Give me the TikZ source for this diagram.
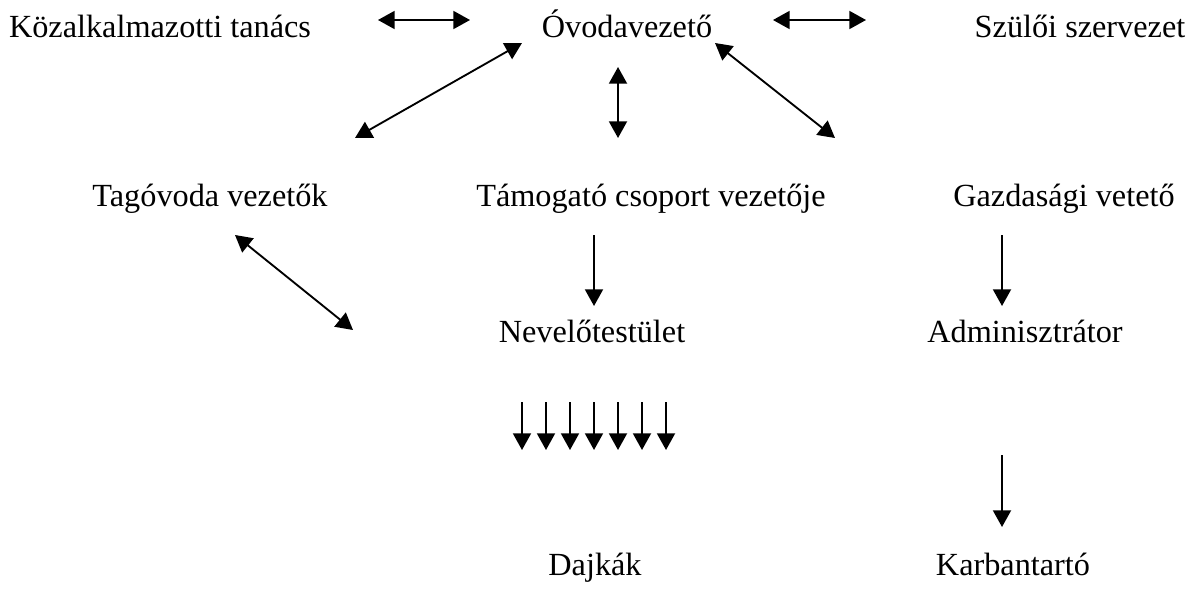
\documentclass[tikz,border=0pt]{standalone}
\usepackage{fontspec}
\setmainfont{Liberation Serif}
\usetikzlibrary{arrows.meta}
\begin{document}
\begin{tikzpicture}[x=0.75pt,y=-0.75pt,
  lbl/.style={anchor=base,inner sep=0pt,font=\fontsize{24.2pt}{28pt}\selectfont},
  tip/.style={Triangle[width=13.5pt,length=12.5pt]},
  arr/.style={line width=1.4pt,-{Triangle[width=13.5pt,length=12.5pt]}},
  darr/.style={line width=1.4pt,{Triangle[width=13.5pt,length=12.5pt]}-{Triangle[width=13.5pt,length=12.5pt]}}]
\useasboundingbox (0,0) rectangle (1196,596);
% texts
\node[lbl] (kozal) at (160,37) {Közalkalmazotti tanács};
\node[lbl] (ovoda) at (627,37) {Óvodavezető};
\node[lbl] (szuloi) at (1080,37) {Szülői szervezet};
\node[lbl] (tagov) at (210,206) {Tagóvoda vezetők};
\node[lbl] (tamog) at (651,206) {Támogató csoport vezetője};
\node[lbl] (gazd) at (1064,206) {Gazdasági vetető};
\node[lbl] (nevelo) at (592,342) {Nevelőtestület};
\node[lbl] (admin) at (1025,342) {Adminisztrátor};
\node[lbl] (dajka) at (595,575) {Dajkák};
\node[lbl] (karban) at (1013,575) {Karbantartó};
% arrow end points
\coordinate (a1) at (378,20); \coordinate (a2) at (470,20);
\coordinate (b1) at (773,20); \coordinate (b2) at (866,20);
\coordinate (c1) at (522,43); \coordinate (c2) at (355,138);
\coordinate (d1) at (618,67); \coordinate (d2) at (618,138);
\coordinate (e1) at (715,43); \coordinate (e2) at (835,138);
\coordinate (f1) at (235,235); \coordinate (f2) at (353,330);
\coordinate (g1) at (594,235); \coordinate (g2) at (594,306);
\coordinate (h1) at (1002,235); \coordinate (h2) at (1002,306);
\coordinate (k1) at (1002,455); \coordinate (k2) at (1002,527);
% arrows
\draw[darr] (a1) -- (a2);
\draw[darr] (b1) -- (b2);
\draw[darr] (c1) -- (c2);
\draw[darr] (d1) -- (d2);
\draw[darr] (e1) -- (e2);
\draw[darr] (f1) -- (f2);
\draw[arr] (g1) -- (g2);
\draw[arr] (h1) -- (h2);
\draw[arr] (k1) -- (k2);
\foreach \i in {0,...,6}{
  \coordinate (m\i t) at (522+24*\i,402);
  \coordinate (m\i b) at (522+24*\i,450);
  \draw[arr] (m\i t) -- (m\i b);
}
\end{tikzpicture}
\end{document}
